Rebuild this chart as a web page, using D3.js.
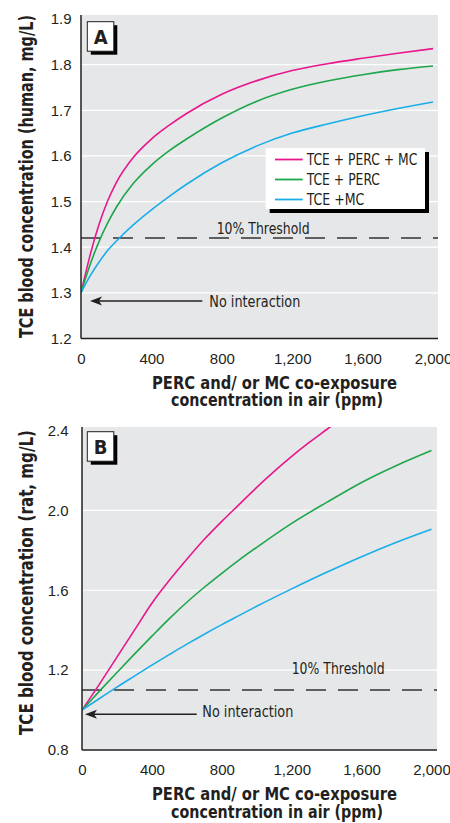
<!DOCTYPE html>
<html>
<head>
<meta charset="utf-8">
<script src="https://cdn.jsdelivr.net/npm/d3@7"></script>
<style>
  html, body { margin: 0; padding: 0; background: #ffffff; }
  svg { display: block; }
  text { font-family: "Liberation Sans Narrow", "Arial Narrow", "DejaVu Sans Condensed", sans-serif; fill: #231f20; }
</style>
</head>
<body>
<svg id="chart" width="450" height="823"></svg>
<script>
// Co-exposure concentration in air (ppm)
const ppmHuman = [0, 50, 100, 150, 200, 300, 400, 500, 600, 800, 1000, 1200, 1400, 1600, 1800, 2000];
// Panel A: TCE blood concentration, human (mg/L)
const humanPercMc = [1.30, 1.380, 1.447, 1.500, 1.541, 1.598, 1.637, 1.667, 1.693, 1.735, 1.765, 1.787, 1.802, 1.814, 1.825, 1.835];
const humanPerc   = [1.30, 1.360, 1.410, 1.452, 1.487, 1.541, 1.580, 1.611, 1.637, 1.683, 1.720, 1.746, 1.764, 1.778, 1.789, 1.797];
const humanMc     = [1.30, 1.336, 1.366, 1.392, 1.413, 1.450, 1.482, 1.511, 1.538, 1.585, 1.622, 1.650, 1.670, 1.688, 1.704, 1.718];

// Panel B: TCE blood concentration, rat (mg/L)
const ppmRatPercMc = [0, 100, 200, 300, 400, 500, 600, 700, 800, 900, 1000, 1100, 1200, 1300, 1400, 1500];
const ratPercMc    = [1.00, 1.130, 1.265, 1.400, 1.535, 1.650, 1.755, 1.855, 1.945, 2.030, 2.115, 2.195, 2.270, 2.340, 2.405, 2.470];
const ppmRat  = [0, 100, 200, 300, 400, 500, 600, 700, 800, 900, 1000, 1200, 1400, 1600, 1800, 2000];
const ratPerc = [1.00, 1.095, 1.188, 1.280, 1.370, 1.458, 1.540, 1.615, 1.685, 1.752, 1.815, 1.935, 2.040, 2.140, 2.225, 2.300];
const ratMc   = [1.00, 1.058, 1.115, 1.170, 1.225, 1.278, 1.330, 1.380, 1.428, 1.474, 1.520, 1.607, 1.690, 1.768, 1.840, 1.905];

// Ticks and labels
const xTicks = [0, 400, 800, 1200, 1600, 2000];
const yTicksHuman = [1.2, 1.3, 1.4, 1.5, 1.6, 1.7, 1.8, 1.9];
const yTicksRat = [0.8, 1.2, 1.6, 2.0, 2.4];
const seriesNames = ["TCE + PERC + MC", "TCE + PERC", "TCE +MC"];
const seriesColors = ["#e8178c", "#1ea64c", "#1aaee8"];
const legendTextWidths = [110.6, 73.3, 57.7];
const thresholdHuman = 1.42;
const thresholdRat = 1.10;

const svg = d3.select("#chart");
const ink = "#231f20";
const tickFont = '"Liberation Sans Narrow", "Arial Narrow", sans-serif';

function drawPanel(p) {
  const g = svg.append("g");
  const x = d3.scaleLinear().domain([0, 2000]).range([p.left, p.xEnd]);
  const y = d3.scaleLinear().domain(p.yDomain).range([p.bottom, p.yTopPx]);

  // plot background
  g.append("rect").attr("x", p.left).attr("y", p.top)
    .attr("width", p.right - p.left).attr("height", p.bottom - p.top)
    .attr("fill", "#e6e7e8");

  // white gridlines
  g.selectAll(".grid").data(p.yTicks.filter(v => v !== p.yDomain[0] && v !== p.yDomain[1]))
    .enter().append("line")
    .attr("x1", p.left).attr("x2", p.right)
    .attr("y1", d => y(d)).attr("y2", d => y(d))
    .attr("stroke", "#ffffff").attr("stroke-width", 1.2);

  const clipId = "clip" + p.id;
  svg.append("clipPath").attr("id", clipId).append("rect")
    .attr("x", p.left).attr("y", p.top)
    .attr("width", p.right - p.left).attr("height", p.bottom - p.top);

  // threshold line
  g.append("line")
    .attr("x1", p.left).attr("x2", p.right)
    .attr("y1", y(p.threshold)).attr("y2", y(p.threshold))
    .attr("stroke", "#333333").attr("stroke-width", 1.5)
    .attr("stroke-dasharray", "20,12");

  // curves
  const line = d3.line().x(d => x(d[0])).y(d => y(d[1])).curve(d3.curveMonotoneX);
  p.series.forEach((s, i) => {
    g.append("path")
      .attr("d", line(s.ppm.map((v, k) => [v, s.values[k]])))
      .attr("fill", "none").attr("stroke", seriesColors[i])
      .attr("stroke-width", 1.6)
      .attr("clip-path", `url(#${clipId})`);
  });

  // axis lines
  g.append("line").attr("x1", p.left).attr("x2", p.left)
    .attr("y1", p.top).attr("y2", p.bottom).attr("stroke", ink).attr("stroke-width", 1.5);
  g.append("line").attr("x1", p.left).attr("x2", p.right)
    .attr("y1", p.bottom).attr("y2", p.bottom).attr("stroke", ink).attr("stroke-width", 1.5);

  // tick labels
  const yAxis = d3.axisLeft(y).tickValues(p.yTicks).tickFormat(d3.format(".1f"))
    .tickSize(0).tickPadding(p.yPad);
  const ya = g.append("g").attr("transform", `translate(${p.left},0)`).call(yAxis);
  ya.select(".domain").remove();
  ya.selectAll("text").style("font-size", "15px").attr("fill", ink).style("font-family", tickFont);

  const xAxis = d3.axisBottom(x).tickValues(xTicks).tickFormat(d3.format(","))
    .tickSize(0).tickPadding(14.5);
  const xa = g.append("g").attr("transform", `translate(0,${p.bottom})`).call(xAxis);
  xa.select(".domain").remove();
  xa.selectAll("text").style("font-size", "15px").attr("fill", ink).style("font-family", tickFont);

  // axis titles
  g.append("text")
    .attr("transform", `translate(33,${p.yTitleCenter}) rotate(-90)`)
    .attr("text-anchor", "middle")
    .attr("textLength", p.yTitleLen).attr("lengthAdjust", "spacingAndGlyphs")
    .style("font-size", "19px").style("font-weight", "bold")
    .text(p.yTitle);
  g.append("text").attr("x", 274.5).attr("y", p.bottom + 50)
    .attr("text-anchor", "middle")
    .attr("textLength", 245).attr("lengthAdjust", "spacingAndGlyphs")
    .style("font-size", "18px").style("font-weight", "bold")
    .text("PERC and/ or MC co-exposure");
  g.append("text").attr("x", 277).attr("y", p.bottom + 67.5)
    .attr("text-anchor", "middle")
    .attr("textLength", 212).attr("lengthAdjust", "spacingAndGlyphs")
    .style("font-size", "18px").style("font-weight", "bold")
    .text("concentration in air (ppm)");

  // panel letter box with drop shadow
  g.append("rect").attr("x", p.box[0] + 3.5).attr("y", p.box[1] + 3.5)
    .attr("width", 26.5).attr("height", 29.5).attr("fill", "#000");
  g.append("rect").attr("x", p.box[0]).attr("y", p.box[1])
    .attr("width", 26.5).attr("height", 29.5).attr("fill", "#fff")
    .attr("stroke", ink).attr("stroke-width", 1);
  g.append("text").attr("x", p.box[0] + 13.3).attr("y", p.box[1] + 22)
    .attr("text-anchor", "middle")
    .style("font-size", "20px").style("font-weight", "bold")
    .text(p.id);

  // threshold label
  g.append("text").attr("x", p.thLabel[0]).attr("y", p.thLabel[1])
    .attr("textLength", 93).attr("lengthAdjust", "spacingAndGlyphs")
    .style("font-size", "15px").text("10% Threshold");

  // no-interaction arrow and label
  const ay = p.arrow[2];
  g.append("line").attr("x1", p.arrow[0] + 8).attr("x2", p.arrow[1])
    .attr("y1", ay).attr("y2", ay).attr("stroke", ink).attr("stroke-width", 1.4);
  g.append("path")
    .attr("d", `M${p.arrow[0]},${ay} L${p.arrow[0] + 12},${ay - 4.5} L${p.arrow[0] + 9},${ay} L${p.arrow[0] + 12},${ay + 4.5} Z`)
    .attr("fill", ink);
  g.append("text").attr("x", p.niLabel[0]).attr("y", p.niLabel[1])
    .attr("textLength", 91).attr("lengthAdjust", "spacingAndGlyphs")
    .style("font-size", "15px").text("No interaction");

  return { x, y };
}

drawPanel({
  id: "A", left: 81, right: 438, xEnd: 433, top: 15, bottom: 338.5, yTopPx: 19,
  yDomain: [1.2, 1.9], yTicks: yTicksHuman, yPad: 9.5, threshold: thresholdHuman,
  series: [
    { ppm: ppmHuman, values: humanPercMc },
    { ppm: ppmHuman, values: humanPerc },
    { ppm: ppmHuman, values: humanMc }
  ],
  yTitle: "TCE blood concentration (human, mg/L)", yTitleCenter: 176.5, yTitleLen: 323,
  box: [87.3, 21.7], thLabel: [216.7, 234], arrow: [90, 202.3, 301], niLabel: [209.3, 306.5]
});

drawPanel({
  id: "B", left: 82, right: 437, xEnd: 431.5, top: 427, bottom: 750, yTopPx: 430.5,
  yDomain: [0.8, 2.4], yTicks: yTicksRat, yPad: 13.5, threshold: thresholdRat,
  series: [
    { ppm: ppmRatPercMc, values: ratPercMc },
    { ppm: ppmRat, values: ratPerc },
    { ppm: ppmRat, values: ratMc }
  ],
  yTitle: "TCE blood concentration (rat, mg/L)", yTitleCenter: 582.5, yTitleLen: 305,
  box: [87.3, 431.7], thLabel: [291.7, 673.5], arrow: [85, 196.7, 714.3], niLabel: [202.3, 717]
});

// legend (panel A)
const legend = svg.append("g");
legend.append("rect").attr("x", 269.7).attr("y", 152).attr("width", 159.3).attr("height", 61).attr("fill", "#000");
legend.append("rect").attr("x", 265.7).attr("y", 148).attr("width", 159.3).attr("height", 61).attr("fill", "#fff");
seriesNames.forEach((name, i) => {
  const base = 165 + i * 20;
  legend.append("line").attr("x1", 275).attr("x2", 302.7)
    .attr("y1", base - 5.5).attr("y2", base - 5.5)
    .attr("stroke", seriesColors[i]).attr("stroke-width", 1.8);
  legend.append("text").attr("x", 306.7).attr("y", base)
    .attr("textLength", legendTextWidths[i]).attr("lengthAdjust", "spacingAndGlyphs")
    .style("font-size", "15px").text(name);
});
</script>
</body>
</html>
